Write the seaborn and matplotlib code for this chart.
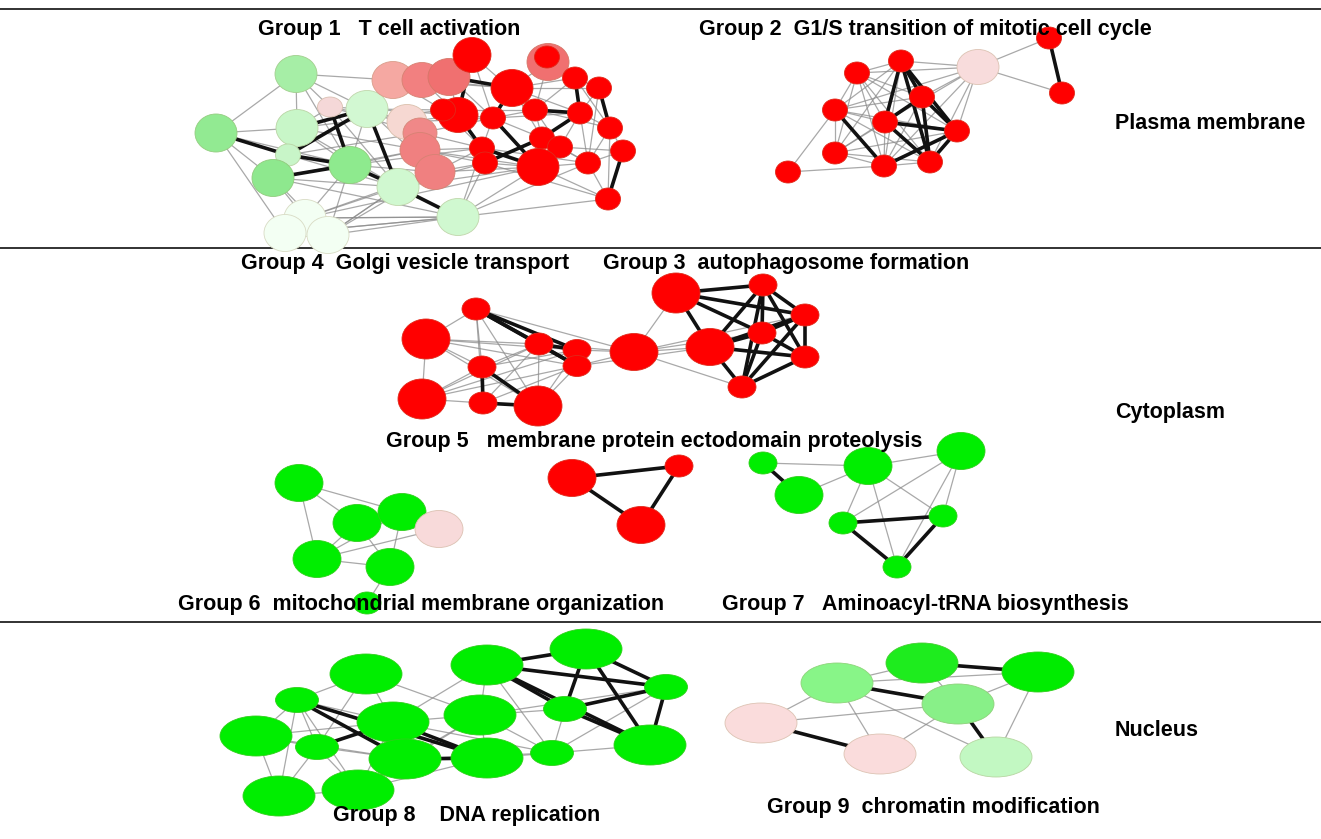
import numpy as np
import matplotlib
matplotlib.use("Agg")
import matplotlib.pyplot as plt
import matplotlib.colors as mcolors
import seaborn as sns
from matplotlib.collections import EllipseCollection, LineCollection

# ---------------- data ----------------
# Group 1  T cell activation
g1_x = [296, 216, 297, 330, 367, 288, 273, 350, 398, 458, 305, 285, 328,
        393, 422, 449, 472, 548, 547, 407, 420, 420, 435, 458, 443, 512,
        575, 599, 493, 535, 580, 610, 542, 560, 482, 485, 538, 588, 623, 608]
g1_y = [74, 133, 128, 107, 109, 155, 178, 165, 187, 217, 218, 233, 235,
        80, 80, 77, 55, 62, 57, 122, 133, 150, 172, 115, 110, 88,
        78, 88, 118, 110, 113, 128, 138, 147, 148, 163, 167, 163, 151, 199]
g1_w = [42, 42, 42, 25, 42, 25, 42, 42, 42, 42, 42, 42, 42,
        42, 40, 42, 38, 42, 25, 40, 34, 40, 40, 40, 25, 42,
        25, 25, 25, 25, 25, 25, 25, 25, 25, 25, 42, 25, 25, 25]
g1_h = [37, 38, 37, 20, 37, 22, 37, 37, 37, 37, 37, 37, 37,
        37, 35, 37, 35, 37, 22, 35, 30, 35, 35, 35, 22, 37,
        22, 22, 22, 22, 22, 22, 22, 22, 22, 22, 37, 22, 22, 22]
g1_c = ["#a6eea6", "#92ea92", "#c8f6c8", "#f5d8d8", "#d2f8d2", "#c8f5c8", "#8ee88e",
        "#8eea8e", "#d0f8d0", "#d0f8d0", "#f3fff3", "#f3fff3", "#f3fff3",
        "#f5a8a2", "#f28080", "#f07070", "#ff0000", "#f07070", "#ff0000", "#f6d8d2",
        "#f08888", "#f08080", "#f08080", "#ff0000", "#ff0000", "#ff0000",
        "#ff0000", "#ff0000", "#ff0000", "#ff0000", "#ff0000", "#ff0000", "#ff0000",
        "#ff0000", "#ff0000", "#ff0000", "#ff0000", "#ff0000", "#ff0000", "#ff0000"]
g1_thin = [(0, 1), (0, 2), (0, 4), (0, 13), (1, 2), (1, 6), (1, 11), (2, 3), (2, 6),
           (2, 7), (3, 4), (4, 7), (4, 13), (4, 19), (5, 6), (6, 7), (6, 10), (6, 12),
           (7, 10), (7, 12), (8, 10), (8, 12), (9, 10), (9, 12), (9, 11), (10, 11),
           (11, 12), (9, 39), (9, 37), (2, 21), (4, 22), (6, 9), (7, 9), (3, 19),
           (25, 26), (25, 27), (25, 29), (25, 30), (26, 27), (26, 29), (27, 30),
           (28, 29), (28, 32), (28, 34), (29, 32), (29, 33), (30, 31), (30, 33),
           (30, 37), (31, 37), (31, 38), (32, 33), (32, 36), (33, 37), (34, 35),
           (35, 36), (36, 37), (37, 38), (37, 39), (36, 39), (31, 39), (16, 15),
           (17, 25), (17, 26), (17, 29), (18, 26), (15, 23), (15, 25), (23, 28),
           (23, 34), (24, 34), (20, 34), (21, 35), (22, 35), (22, 36), (21, 34),
           (14, 23), (13, 24), (19, 28), (16, 29), (16, 28), (24, 29), (15, 28),
           (4, 23), (4, 24), (7, 21), (7, 22), (8, 22), (8, 35), (9, 36), (9, 35),
           (2, 24), (3, 20), (5, 20), (6, 21), (7, 34), (10, 22), (12, 22),
           (10, 36), (11, 9), (0, 3), (1, 7), (2, 8), (5, 8), (6, 8), (3, 8),
           (12, 8), (10, 9), (0, 7), (13, 25), (14, 25), (19, 23), (20, 28),
           (21, 36), (22, 34), (26, 31), (27, 37), (29, 31), (32, 37), (33, 38),
           (28, 30), (25, 32), (34, 37), (35, 39), (9, 34), (8, 36)]
g1_thick = [(1, 5), (5, 7), (5, 4), (3, 7), (7, 8), (8, 9), (4, 8), (2, 4), (6, 7),
            (16, 23), (25, 28), (28, 36), (34, 36), (32, 30), (29, 30), (26, 30),
            (27, 31), (38, 39), (35, 32), (36, 33), (15, 25), (23, 34)]

# Group 2  G1/S transition of mitotic cell cycle
g2_x = [901, 857, 1049, 978, 1062, 922, 835, 885, 957, 835, 884, 930, 788]
g2_y = [61, 73, 38, 67, 93, 97, 110, 122, 131, 153, 166, 162, 172]
g2_w = [25, 25, 25, 42, 25, 25, 25, 25, 25, 25, 25, 25, 25]
g2_h = [22, 22, 22, 35, 22, 22, 22, 22, 22, 22, 22, 22, 22]
g2_c = ["#ff0000", "#ff0000", "#ff0000", "#f8dcdc", "#ff0000", "#ff0000", "#ff0000",
        "#ff0000", "#ff0000", "#ff0000", "#ff0000", "#ff0000", "#ff0000"]
g2_thin = [(0, 1), (0, 3), (0, 6), (0, 9), (0, 10), (1, 5), (1, 6), (1, 7), (1, 8),
           (1, 9), (1, 10), (1, 11), (1, 3), (3, 2), (3, 4), (3, 5), (3, 7), (3, 8),
           (3, 6), (3, 11), (3, 10), (5, 6), (5, 9), (5, 10), (6, 7), (6, 9), (6, 11),
           (6, 8), (7, 9), (7, 10), (8, 9), (8, 10), (9, 10), (9, 11), (10, 11),
           (12, 6), (12, 10)]
g2_thick = [(0, 7), (0, 5), (0, 11), (0, 8), (5, 8), (5, 11), (7, 5), (7, 8),
            (7, 11), (6, 10), (8, 11), (2, 4), (10, 8)]

# Group 4  Golgi vesicle transport  +  Group 3  autophagosome formation
g34_x = [476, 426, 539, 577, 577, 482, 422, 483, 538,
         676, 763, 805, 762, 634, 710, 805, 742]
g34_y = [309, 339, 344, 350, 366, 367, 399, 403, 406,
         293, 285, 315, 333, 352, 347, 357, 387]
g34_w = [28, 48, 28, 28, 28, 28, 48, 28, 48,
         48, 28, 28, 28, 48, 48, 28, 28]
g34_h = [22, 40, 22, 21, 21, 22, 40, 22, 40,
         40, 22, 22, 22, 37, 37, 22, 22]
g34_c = ["#ff0000"] * 17
g34_thin = [(0, 1), (0, 5), (0, 7), (0, 8), (1, 2), (1, 3), (1, 5), (1, 6), (1, 8),
            (1, 4), (2, 5), (2, 6), (2, 8), (3, 6), (3, 5), (3, 8), (4, 6), (4, 7),
            (4, 8), (5, 6), (6, 7), (2, 7), (3, 13), (4, 13), (2, 13), (0, 13),
            (9, 13), (13, 14), (13, 16), (13, 12), (13, 11), (4, 14)]
g34_thick = [(0, 2), (0, 3), (2, 3), (2, 4), (5, 7), (5, 8), (7, 8), (0, 4),
             (9, 10), (9, 12), (9, 14), (9, 11), (10, 12), (10, 14), (10, 15),
             (10, 11), (10, 16), (11, 12), (11, 15), (11, 16), (12, 14), (12, 15),
             (12, 16), (14, 16), (15, 16), (14, 15), (14, 11)]

# Group 5  membrane protein ectodomain proteolysis
g5_x = [572, 679, 641]
g5_y = [478, 466, 525]
g5_w = [48, 28, 48]
g5_h = [37, 22, 37]
g5_c = ["#ff0000"] * 3
g5_thin = []
g5_thick = [(0, 1), (0, 2), (1, 2)]

# Group 6  mitochondrial membrane organization
g6_x = [299, 357, 402, 439, 317, 390, 367]
g6_y = [483, 523, 512, 529, 559, 567, 603]
g6_w = [48, 48, 48, 48, 48, 48, 28]
g6_h = [37, 37, 37, 37, 37, 37, 22]
g6_c = ["#00ee00", "#00ee00", "#00ee00", "#f8dada", "#00ee00", "#00ee00", "#00ee00"]
g6_thin = [(0, 1), (0, 2), (0, 4), (1, 4), (1, 5), (2, 4), (2, 5), (3, 4), (4, 5),
           (5, 6), (1, 2)]
g6_thick = []

# Group 7  Aminoacyl-tRNA biosynthesis
g7_x = [763, 799, 868, 961, 843, 943, 897]
g7_y = [463, 495, 466, 451, 523, 516, 567]
g7_w = [28, 48, 48, 48, 28, 28, 28]
g7_h = [22, 37, 37, 37, 22, 22, 22]
g7_c = ["#00ee00"] * 7
g7_thin = [(0, 2), (1, 2), (2, 3), (2, 4), (2, 6), (2, 5), (3, 4), (3, 6), (3, 5)]
g7_thick = [(0, 1), (4, 5), (4, 6), (5, 6)]

# Group 8  DNA replication
g8_x = [366, 297, 256, 317, 393, 405, 279, 358, 487, 586, 480, 565, 666, 487, 552, 650]
g8_y = [674, 700, 736, 747, 722, 759, 796, 790, 665, 649, 715, 709, 687, 758, 753, 745]
g8_w = [72, 43, 72, 43, 72, 72, 72, 72, 72, 72, 72, 43, 43, 72, 43, 72]
g8_h = [40, 25, 40, 25, 40, 40, 40, 40, 40, 40, 40, 25, 25, 40, 25, 40]
g8_c = ["#00ee00"] * 16
g8_thin = [(0, 1), (0, 4), (0, 10), (0, 3), (1, 2), (1, 3), (1, 4), (1, 6), (1, 7),
           (2, 3), (2, 6), (2, 4), (2, 5), (3, 6), (3, 7), (3, 5), (4, 5), (4, 10),
           (4, 7), (5, 7), (5, 10), (5, 14), (6, 7), (7, 13), (7, 10), (8, 10),
           (8, 14), (10, 13), (10, 11), (10, 14), (10, 12), (13, 14), (14, 11),
           (14, 15), (14, 12), (4, 14), (8, 4)]
g8_thick = [(8, 9), (8, 12), (8, 11), (8, 15), (9, 11), (9, 12), (9, 15), (11, 12),
            (12, 15), (11, 15), (1, 5), (1, 13), (4, 13), (3, 4), (5, 13)]

# Group 9  chromatin modification
g9_x = [922, 1038, 837, 958, 761, 880, 996]
g9_y = [663, 672, 683, 704, 723, 754, 757]
g9_w = [72, 72, 72, 72, 72, 72, 72]
g9_h = [40, 40, 40, 40, 40, 40, 40]
g9_c = ["#1eec1e", "#00ec00", "#88f588", "#88f088", "#fadcdc", "#fadcdc", "#c2f8c2"]
g9_thin = [(2, 0), (2, 1), (2, 4), (2, 5), (2, 6), (0, 3), (3, 1), (4, 3), (5, 3),
           (1, 6)]
g9_thick = [(0, 1), (2, 3), (4, 5), (3, 6)]

# Text
group_titles = ["Group 1   T cell activation",
                "Group 2  G1/S transition of mitotic cell cycle",
                "Group 4  Golgi vesicle transport",
                "Group 3  autophagosome formation",
                "Group 5   membrane protein ectodomain proteolysis",
                "Group 6  mitochondrial membrane organization",
                "Group 7   Aminoacyl-tRNA biosynthesis",
                "Group 8    DNA replication",
                "Group 9  chromatin modification"]
title_x = [258, 699, 241, 603, 386, 178, 722, 333, 767]
title_y = [35, 35, 269, 269, 447, 610, 610, 821, 813]
compartments = ["Plasma membrane", "Cytoplasm", "Nucleus"]
comp_x = [1115, 1115, 1115]
comp_y = [129, 418, 736]
divider_y = [9, 248, 622]

# ---------------- plot ----------------
sns.set_theme(style="white")
plt.rcParams['font.family'] = ['Liberation Sans', 'DejaVu Sans']

W, H = 1321, 839
fig = plt.figure(figsize=(W / 100, H / 100), dpi=100)
ax = fig.add_axes([0, 0, 1, 1])
ax.set_xlim(0, W)
ax.set_ylim(H, 0)
ax.axis('off')

for yv in divider_y:
    ax.axhline(yv, color="#222222", lw=1.3, zorder=1)


def outline(c):
    r, g, b = mcolors.to_rgb(c)
    return (r * 0.7 + 0.18, g * 0.7 + 0.16, b * 0.7 + 0.1)


def draw_group(x, y, w, h, c, thin, thick):
    pts = np.column_stack([x, y]).astype(float)
    if thin:
        segs = [[pts[i], pts[j]] for i, j in thin]
        ax.add_collection(LineCollection(segs, colors="#8c8c8c", linewidths=0.9,
                                         alpha=0.75, zorder=2))
    if thick:
        segs = [[pts[i], pts[j]] for i, j in thick]
        ax.add_collection(LineCollection(segs, colors="#111111", linewidths=2.6,
                                         zorder=3))
    ec = EllipseCollection(np.array(w, float), np.array(h, float), np.zeros(len(w)),
                           units='xy', offsets=pts, offset_transform=ax.transData,
                           facecolors=c, edgecolors=[outline(cc) for cc in c],
                           linewidths=0.6, zorder=4)
    ax.add_collection(ec)


draw_group(g1_x, g1_y, g1_w, g1_h, g1_c, g1_thin, g1_thick)
draw_group(g2_x, g2_y, g2_w, g2_h, g2_c, g2_thin, g2_thick)
draw_group(g34_x, g34_y, g34_w, g34_h, g34_c, g34_thin, g34_thick)
draw_group(g5_x, g5_y, g5_w, g5_h, g5_c, g5_thin, g5_thick)
draw_group(g6_x, g6_y, g6_w, g6_h, g6_c, g6_thin, g6_thick)
draw_group(g7_x, g7_y, g7_w, g7_h, g7_c, g7_thin, g7_thick)
draw_group(g8_x, g8_y, g8_w, g8_h, g8_c, g8_thin, g8_thick)
draw_group(g9_x, g9_y, g9_w, g9_h, g9_c, g9_thin, g9_thick)

for t, xv, yv in zip(group_titles, title_x, title_y):
    ax.text(xv, yv, t, fontsize=15.5, fontweight='bold', color='black',
            ha='left', va='baseline', zorder=6)
for t, xv, yv in zip(compartments, comp_x, comp_y):
    ax.text(xv, yv, t, fontsize=15.5, fontweight='bold', color='black',
            ha='left', va='baseline', zorder=6)

fig.savefig("out.png", dpi=100, facecolor='white')
